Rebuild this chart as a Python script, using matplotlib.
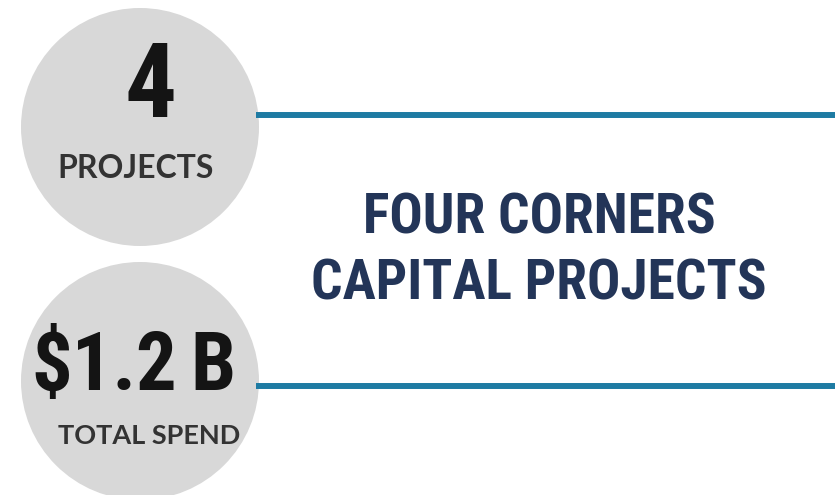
import matplotlib
matplotlib.use("Agg")
import matplotlib.pyplot as plt
from matplotlib import font_manager
from matplotlib.patches import Circle

# ---- data ----
stat_values = ["4", "$1.2 B"]
stat_labels = ["PROJECTS", "TOTAL SPEND"]
title_lines = ["FOUR CORNERS", "CAPITAL PROJECTS"]

names = {f.name for f in font_manager.fontManager.ttflist}
narrow = "DejaVu Sans"
for cand in ["Roboto Condensed", "Liberation Sans Narrow", "DejaVu Sans Condensed"]:
    if cand in names:
        narrow = cand
        break

W, H = 835, 495
fig = plt.figure(figsize=(W / 100, H / 100), dpi=100)
ax = fig.add_axes([0, 0, 1, 1])
ax.set_xlim(0, W)
ax.set_ylim(H, 0)
ax.axis("off")

circle_color = "#d8d8d8"
line_color = "#1e7ba3"
navy = "#233558"
dark = "#141414"
label_col = "#333333"

centers = [(140, 127), (140, 381)]
R = 119
for (cx, cy) in centers:
    ax.add_patch(Circle((cx, cy), R, facecolor=circle_color, edgecolor="none", zorder=1))

# horizontal rules
for y in [115, 386]:
    ax.plot([256, W], [y, y], color=line_color, lw=4.3, solid_capstyle="butt", zorder=2)

# stat values
ax.text(151, 117, stat_values[0], ha="center", va="baseline", fontsize=74,
        fontweight="bold", family=narrow, color=dark, zorder=3)
# "$1.2 B" drawn in two parts with a tighter gap, as in the condensed original
num_part, unit_part = stat_values[1].split(" ")
ax.text(177, 390, num_part, ha="right", va="baseline", fontsize=58,
        fontweight="bold", family=narrow, color=dark, zorder=3)
ax.text(190, 390, unit_part, ha="left", va="baseline", fontsize=58,
        fontweight="bold", family=narrow, color=dark, zorder=3)

# labels
ax.text(135.5, 169, stat_labels[0], ha="center", va="center", fontsize=23,
        fontweight="bold", family="Lato", color=label_col, zorder=3)
ax.text(149, 436, stat_labels[1], ha="center", va="center", fontsize=19.5,
        fontweight="bold", family="Lato", color=label_col, zorder=3)

# title
ax.text(539, 218, title_lines[0], ha="center", va="center", fontsize=40,
        fontweight="bold", family=narrow, color=navy, zorder=3)
ax.text(539, 284.5, title_lines[1], ha="center", va="center", fontsize=40,
        fontweight="bold", family=narrow, color=navy, zorder=3)

fig.savefig("out.png", dpi=100, facecolor="white")
